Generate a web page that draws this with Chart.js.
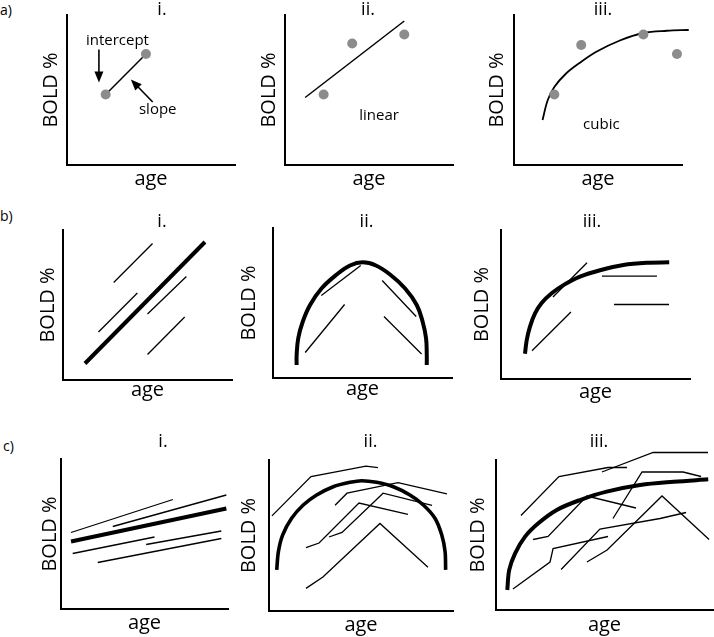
<!DOCTYPE html>
<html>
<head>
<meta charset="utf-8">
<script src="https://cdn.jsdelivr.net/npm/chart.js@4.4.1/dist/chart.umd.min.js"></script>
<style>
html,body{margin:0;padding:0;background:#fff;overflow:hidden;width:714px;height:637px;}
#fig{position:relative;width:714px;height:637px;overflow:hidden;}
.row{position:absolute;font:14px 'Open Sans',sans-serif;line-height:14px;color:#000;}
</style>
</head>
<body>
<div id="fig">
  <div class="row" style="left:0;top:3px">a)</div>
  <div class="row" style="left:0;top:209px">b)</div>
  <div class="row" style="left:3px;top:439px">c)</div>
</div>
<script>
// ===== DATA (age on x, BOLD % on y, arbitrary 0-100 units) =====
// --- row a ---
const aiDotAge = [23, 47];
const aiDotBold = [47, 74];
const aiNoteText = ['intercept', 'slope'];
const aiNoteAge = [30, 54];
const aiNoteBold = [83, 37];
const aiArrowAge = [[19, 19], [51, 38]];
const aiArrowBold = [[77, 55], [42, 57]];

const aiiDotAge = [23, 40, 71];
const aiiDotBold = [47, 81, 87];
const aiiFitAge = [12, 71];
const aiiFitBold = [45, 96];
const aiiNoteText = ['linear'];
const aiiNoteAge = [56];
const aiiNoteBold = [33];

const aiiiDotAge = [24, 40, 77, 97];
const aiiiDotBold = [47, 80, 87, 74];
const aiiiFitAge = [17, 20, 24, 31, 39, 49, 63, 77, 91, 104];
const aiiiFitBold = [30, 43, 52, 61, 68, 75.5, 83, 88, 89.5, 90];
const aiiiNoteText = ['cubic'];
const aiiiNoteAge = [52];
const aiiiNoteBold = [27];

// --- row b ---
const biMeanAge = [13, 84];
const biMeanBold = [11, 92];
const biSubjAge = [[30, 53], [21, 44], [50, 73], [50, 72]];
const biSubjBold = [[65, 91], [32, 58], [44, 69], [17, 42]];

const biiMeanAge = [13.2, 13.2, 14.1, 16.6, 20.7, 27.2, 35.6, 43, 50.1, 57.5, 65.4, 73.7, 80.3, 83.6, 85.5, 85.9, 85.9];
const biiMeanBold = [8.7, 15.3, 26.5, 37.5, 48.7, 59.8, 69, 75, 77.1, 75, 69, 59.8, 48.7, 37.5, 26.5, 15.3, 8.7];
const biiSubjAge = [[27, 49], [18, 40], [61, 80], [62, 83]];
const biiSubjBold = [[55, 75], [17, 49], [65, 41], [41, 16]];

const biiiMeanAge = [12.7, 13.6, 15.3, 18, 21.5, 26.8, 33, 41.8, 52.4, 64.7, 77.1, 89];
const biiiMeanBold = [17, 26, 35, 44, 51, 57.5, 63, 68.7, 73, 76.5, 78, 78.3];
const biiiSubjAge = [[27.5, 45.5], [16.4, 37], [53.4, 82.5], [59.8, 88.9]];
const biiiSubjBold = [[55, 78], [19, 45], [69, 69], [50, 50]];

// --- row c ---
const ciMeanAge = [6, 99];
const ciMeanBold = [45, 67];
const ciSubjAge = [[6, 67], [31, 99], [7, 56], [51, 96], [22, 96]];
const ciSubjBold = [[51, 73], [55, 76], [37, 48], [43, 52], [31, 47]];

const ciiMeanAge = [4.2, 5.1, 7.4, 12.3, 18.6, 25.9, 34.9, 44, 50.4, 58.5, 67.6, 76.6, 83.9, 90.2, 93.9, 95.7, 96];
const ciiMeanBold = [27.2, 39.3, 50.3, 61.4, 70.2, 76.8, 82.3, 85.2, 86.3, 85.2, 82.3, 76.8, 70.2, 61.4, 50.3, 39.3, 27.2];
const ciiSubjAge = [[1.6, 22.8, 52.7, 59.2], [35.9, 42.4, 70.1, 96.7], [20.1, 27.2, 48.9, 75.5], [32.6, 39.7, 62, 88.6], [20.1, 29.3, 60.3, 86.4]];
const ciiSubjBold = [[63, 89, 96, 95], [70, 78, 85, 77.5], [42, 45, 71.5, 64], [49, 52, 78, 70], [15, 22.5, 58, 29]];

const ciiiMeanAge = [5.2, 6.1, 8.8, 13.4, 19.5, 28, 38.7, 51, 66.4, 81.8, 97.8];
const ciiiMeanBold = [13.3, 26.7, 37.8, 48.9, 57.8, 66.7, 73.3, 78.9, 83.3, 85.5, 87.1];
const ciiiSubjAge = [[11.5, 29, 51.6, 60.4], [48.8, 72.4, 97.7], [53.9, 67.3, 86.2, 94.5], [17.1, 24, 41.9, 64.5], [7.8, 24.9, 26.3, 51.6], [30, 47.9, 75.6, 87.6], [41.9, 51.2, 76.5, 98.2]];
const ciiiSubjBold = [[63, 89, 95, 95], [92, 105, 105], [61, 92, 92, 89], [47, 49, 76, 68], [14, 32, 41, 49], [27, 54, 61, 65], [32, 40, 76, 47]];

const panelTitles = ['i.', 'ii.', 'iii.'];

// ===== RENDERING =====
Chart.defaults.font.family = "'Open Sans', sans-serif";
Chart.defaults.color = '#000';
const INK = '#000';
const DOT = '#8c8c8c';

function xy(ages, bolds) { return ages.map((a, i) => ({x: a, y: bolds[i]})); }
function dots(ages, bolds) {
  return {data: xy(ages, bolds), showLine: false, pointRadius: 5, pointHoverRadius: 5,
          pointBackgroundColor: DOT, pointBorderColor: DOT, pointBorderWidth: 0, clip: false};
}
function curve(ages, bolds, width, tension) {
  return {data: xy(ages, bolds), showLine: true, borderColor: INK, borderWidth: width,
          pointRadius: 0, pointHoverRadius: 0, tension: tension || 0, fill: false, clip: false,
          borderCapStyle: 'butt', borderJoinStyle: 'round'};
}
function subjects(agesList, boldsList) {
  return agesList.map((a, i) => Object.assign(curve(a, boldsList[i], 1.3), {borderJoinStyle: 'miter'}));
}
function texts(t, ages, bolds) { return t.map((s, i) => ({text: s, x: ages[i], y: bolds[i]})); }
function arrows(ages, bolds) { return ages.map((a, i) => ({from: [a[0], bolds[i][0]], to: [a[1], bolds[i][1]]})); }

const notesPlugin = {
  id: 'notes',
  afterDatasetsDraw(chart, args, opts) {
    const {ctx} = chart;
    const sx = chart.scales.x, sy = chart.scales.y;
    ctx.save();
    (opts.arrows || []).forEach(a => {
      const x1 = sx.getPixelForValue(a.from[0]), y1 = sy.getPixelForValue(a.from[1]);
      const x2 = sx.getPixelForValue(a.to[0]), y2 = sy.getPixelForValue(a.to[1]);
      const ang = Math.atan2(y2 - y1, x2 - x1);
      const head = 11, half = 4.5;
      ctx.strokeStyle = INK; ctx.fillStyle = INK; ctx.lineWidth = 1.6;
      ctx.beginPath(); ctx.moveTo(x1, y1);
      ctx.lineTo(x2 - Math.cos(ang) * head * 0.7, y2 - Math.sin(ang) * head * 0.7); ctx.stroke();
      ctx.beginPath(); ctx.moveTo(x2, y2);
      ctx.lineTo(x2 - head * Math.cos(ang) + half * Math.sin(ang), y2 - head * Math.sin(ang) - half * Math.cos(ang));
      ctx.lineTo(x2 - head * Math.cos(ang) - half * Math.sin(ang), y2 - head * Math.sin(ang) + half * Math.cos(ang));
      ctx.closePath(); ctx.fill();
    });
    ctx.font = "15px 'Open Sans', sans-serif";
    ctx.textAlign = 'center'; ctx.textBaseline = 'middle'; ctx.fillStyle = INK;
    (opts.texts || []).forEach(t => ctx.fillText(t.text, sx.getPixelForValue(t.x), sy.getPixelForValue(t.y)));
    ctx.restore();
  }
};

const fig = document.getElementById('fig');

function panel(g, title, datasets, notes) {
  const lh = 24;       // axis-title line height (20px * 1.2)
  const headroom = 10; // space above the panel title
  const left = Math.round(g.yl - lh / 2);
  const top = g.T - 2 * g.gap - headroom;
  const yW = g.L - left;
  const xH = g.xo + lh / 2;
  const rW = Math.max(0, Math.round(2 * g.tc - left - g.R));
  const width = g.R + rW - left;
  const height = g.B + xH - top;
  const canvas = document.createElement('canvas');
  canvas.width = width; canvas.height = height;
  Object.assign(canvas.style, {position: 'absolute', left: left + 'px', top: top + 'px', width: width + 'px', height: height + 'px'});
  fig.appendChild(canvas);
  const axisBorder = {display: true, color: INK, width: 2};
  new Chart(canvas, {
    type: 'scatter',
    data: {datasets},
    options: {
      responsive: false, animation: false, events: [],
      layout: {padding: 0},
      plugins: {
        legend: {display: false}, tooltip: {enabled: false},
        title: {display: true, text: title, padding: {top: headroom, bottom: 0}, color: INK,
                font: {size: 18, weight: 'normal', lineHeight: (2 * g.gap) + 'px'}},
        notes: notes || {}
      },
      scales: {
        x: {type: 'linear', min: 0, max: 100, grid: {display: false}, border: axisBorder,
            ticks: {display: false},
            title: {display: true, text: 'age', color: INK, padding: 0, font: {size: 20, lineHeight: 1.2}},
            afterFit(s) { s.height = xH; }},
        y: {type: 'linear', position: 'left', min: 0, max: 100, grid: {display: false}, border: axisBorder,
            ticks: {display: false},
            title: {display: true, text: 'BOLD %', color: INK, padding: 0, font: {size: 20, lineHeight: 1.2}},
            afterFit(s) { s.width = yW; }},
        pad: {type: 'linear', axis: 'y', position: 'right', display: true, grid: {display: false},
              border: {display: false}, ticks: {display: false}, afterFit(s) { s.width = rW; }}
      }
    },
    plugins: [notesPlugin]
  });
}

const G = {
  ai:   {L: 67,  T: 15,  R: 235, B: 165, yl: 50.5,  xo: 14, gap: 5,  tc: 162},
  aii:  {L: 285, T: 15,  R: 453, B: 165, yl: 268.5, xo: 14, gap: 5,  tc: 368},
  aiii: {L: 514, T: 15,  R: 682, B: 165, yl: 496.7, xo: 14, gap: 5,  tc: 603},
  bi:   {L: 63,  T: 230, R: 232, B: 380, yl: 48,    xo: 10, gap: 8,  tc: 162},
  bii:  {L: 273, T: 228, R: 452, B: 378, yl: 248.5, xo: 11, gap: 6,  tc: 366.5},
  biii: {L: 501, T: 230, R: 690, B: 379, yl: 482,   xo: 13, gap: 8,  tc: 592},
  ci:   {L: 61,  T: 459, R: 228, B: 609, yl: 49.5,  xo: 14, gap: 17, tc: 163},
  cii:  {L: 269, T: 460, R: 453, B: 611, yl: 249,   xo: 14, gap: 18, tc: 370.5},
  ciii: {L: 496, T: 460, R: 713, B: 610, yl: 478,   xo: 15, gap: 18, tc: 599}
};

// row a
panel(G.ai, panelTitles[0],
  [dots(aiDotAge, aiDotBold), curve(aiDotAge, aiDotBold, 1.5)],
  {texts: texts(aiNoteText, aiNoteAge, aiNoteBold), arrows: arrows(aiArrowAge, aiArrowBold)});
panel(G.aii, panelTitles[1],
  [dots(aiiDotAge, aiiDotBold), curve(aiiFitAge, aiiFitBold, 1.5)],
  {texts: texts(aiiNoteText, aiiNoteAge, aiiNoteBold)});
panel(G.aiii, panelTitles[2],
  [dots(aiiiDotAge, aiiiDotBold), curve(aiiiFitAge, aiiiFitBold, 1.8, 0.35)],
  {texts: texts(aiiiNoteText, aiiiNoteAge, aiiiNoteBold)});

// row b
panel(G.bi, panelTitles[0], [curve(biMeanAge, biMeanBold, 4)].concat(subjects(biSubjAge, biSubjBold)));
panel(G.bii, panelTitles[1], [curve(biiMeanAge, biiMeanBold, 4, 0.4)].concat(subjects(biiSubjAge, biiSubjBold)));
panel(G.biii, panelTitles[2], [curve(biiiMeanAge, biiiMeanBold, 4, 0.35)].concat(subjects(biiiSubjAge, biiiSubjBold)));

// row c
panel(G.ci, panelTitles[0], [curve(ciMeanAge, ciMeanBold, 4)].concat(subjects(ciSubjAge, ciSubjBold)));
panel(G.cii, panelTitles[1], [curve(ciiMeanAge, ciiMeanBold, 3.6, 0.3)].concat(subjects(ciiSubjAge, ciiSubjBold)));
panel(G.ciii, panelTitles[2], [curve(ciiiMeanAge, ciiiMeanBold, 4, 0.35)].concat(subjects(ciiiSubjAge, ciiiSubjBold)));
</script>
</body>
</html>
